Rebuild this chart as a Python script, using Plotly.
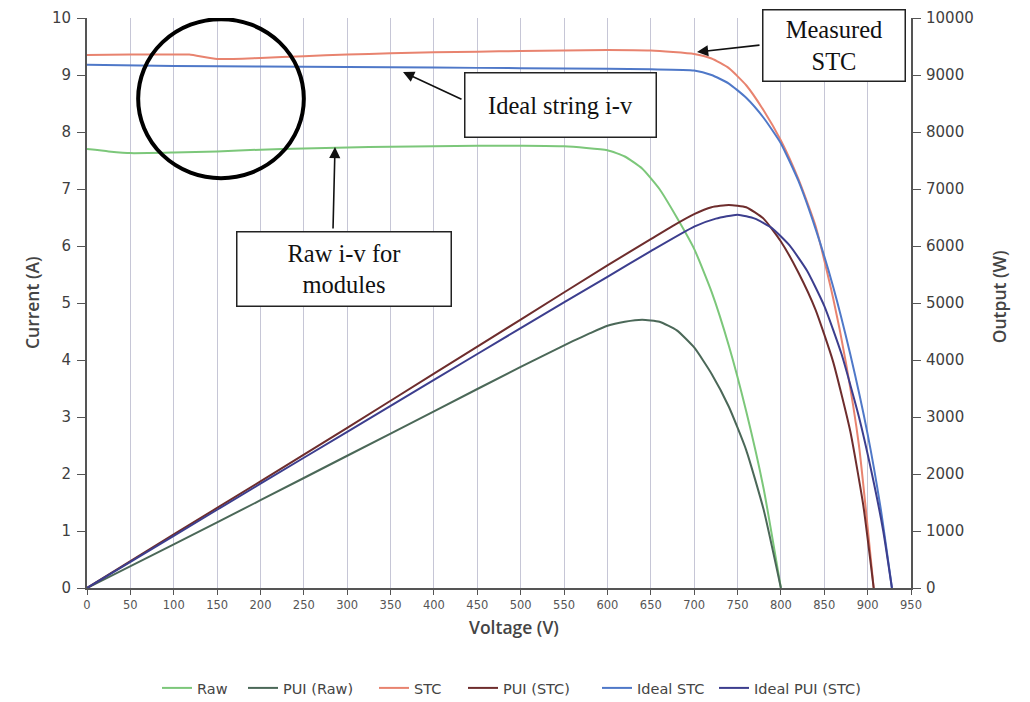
import plotly.graph_objects as go

# ---------------- data ----------------
raw_v = [0, 25, 50, 100, 150, 200, 250, 300, 350, 400, 450, 500, 550, 600, 620, 640, 660, 680, 700, 720, 740, 760, 780, 800]
raw_i = [7.70, 7.66, 7.63, 7.64, 7.66, 7.69, 7.71, 7.73, 7.74, 7.75, 7.76, 7.76, 7.75, 7.68, 7.57, 7.36, 7.00, 6.50, 5.95, 5.20, 4.25, 3.10, 1.75, 0.0]

pui_raw_v = [0, 100, 200, 300, 400, 500, 560, 580, 600, 620, 640, 660, 680, 700, 720, 740, 760, 780, 800]
pui_raw_p = [0, 765, 1540, 2320, 3100, 3880, 4330, 4470, 4600, 4670, 4705, 4670, 4520, 4220, 3760, 3180, 2420, 1380, 0]

stc_v = [0, 50, 100, 118, 150, 200, 250, 300, 350, 400, 450, 500, 550, 600, 650, 700, 720, 740, 760, 780, 800, 820, 840, 860, 875, 890, 907]
stc_i = [9.35, 9.36, 9.36, 9.36, 9.28, 9.30, 9.33, 9.36, 9.38, 9.40, 9.41, 9.42, 9.43, 9.44, 9.43, 9.37, 9.29, 9.12, 8.82, 8.38, 7.85, 7.18, 6.35, 5.10, 3.95, 2.50, 0.0]

pui_stc_v = [0, 100, 200, 300, 400, 500, 600, 650, 675, 700, 720, 740, 760, 780, 800, 820, 840, 860, 880, 895, 907]
pui_stc_p = [0, 940, 1870, 2810, 3760, 4710, 5660, 6120, 6350, 6560, 6680, 6720, 6680, 6480, 6080, 5540, 4880, 3980, 2750, 1450, 0]

ideal_v = [0, 100, 200, 300, 400, 500, 600, 650, 700, 720, 740, 760, 780, 800, 820, 840, 860, 880, 900, 915, 928]
ideal_i = [9.18, 9.16, 9.15, 9.14, 9.13, 9.12, 9.11, 9.10, 9.08, 9.00, 8.85, 8.60, 8.25, 7.80, 7.15, 6.30, 5.30, 4.10, 2.70, 1.40, 0.0]

ideal_pui_v = [0, 100, 200, 300, 400, 500, 600, 650, 700, 725, 750, 770, 790, 810, 830, 850, 870, 890, 905, 918, 928]
ideal_pui_p = [0, 915, 1830, 2740, 3650, 4560, 5460, 5910, 6340, 6480, 6550, 6480, 6310, 6010, 5570, 4950, 4100, 3000, 2000, 1000, 0]

x_ticks = list(range(0, 951, 50))
y_ticks = list(range(0, 11))
y2_ticks = list(range(0, 10001, 1000))

# ---------------- figure ----------------
fig = go.Figure()
LW = 2
SM = 0.5
series = [
    ("Raw", raw_v, raw_i, "y", "#7cc77a", "legend"),
    ("PUI (Raw)", pui_raw_v, pui_raw_p, "y2", "#4b6858", "legend2"),
    ("STC", stc_v, stc_i, "y", "#e8836f", "legend3"),
    ("PUI (STC)", pui_stc_v, pui_stc_p, "y2", "#6e2d2d", "legend4"),
    ("Ideal STC", ideal_v, ideal_i, "y", "#4f78c8", "legend5"),
    ("Ideal PUI (STC)", ideal_pui_v, ideal_pui_p, "y2", "#3c3e8e", "legend6"),
]
for name, xs, ys, ax, col, leg in series:
    fig.add_trace(go.Scatter(x=xs, y=ys, name=name, mode="lines", yaxis=ax, legend=leg,
                             line=dict(color=col, width=LW, shape="spline", smoothing=SM)))

AX = "#555555"
tickfont_y = dict(family="DejaVu Sans", size=15, color="#3f3f3f")
leg_font = dict(family="DejaVu Sans", size=14.5, color="#444444")
leg_starts = [162, 248, 379, 468, 602, 719]   # pixel x of each legend line start
legends = {}
for k, px in enumerate(leg_starts):
    key = "legend" if k == 0 else f"legend{k + 1}"
    legends[key] = dict(orientation="h", x=(px - 92) / 824, xanchor="left", y=-0.1754, yanchor="middle",
                        font=leg_font, itemwidth=30, bgcolor="rgba(0,0,0,0)", borderwidth=0)

fig.update_layout(
    width=1030, height=702,
    margin=dict(l=87, r=119, t=18, b=114, autoexpand=False),
    paper_bgcolor="white", plot_bgcolor="white",
    showlegend=True,
    xaxis=dict(range=[0, 950], tickvals=x_ticks, showgrid=True, gridcolor="#c6c6d6", gridwidth=1,
               showline=True, linecolor=AX, linewidth=2, ticks="outside", ticklen=5, tickcolor=AX,
               tickfont=dict(family="DejaVu Sans", size=11.5, color="#555555"), zeroline=False,
               fixedrange=True),
    yaxis=dict(range=[0, 10], tickvals=y_ticks, showgrid=False, zeroline=False,
               showline=True, linecolor=AX, linewidth=2, ticks="outside", ticklen=8, tickcolor=AX,
               tickfont=tickfont_y, ticklabelstandoff=3),
    yaxis2=dict(range=[0, 10000], tickvals=y2_ticks, tickformat="d", overlaying="y", side="right",
                showgrid=False, zeroline=False, showline=True, linecolor=AX, linewidth=2,
                ticks="outside", ticklen=8, tickcolor=AX, tickfont=tickfont_y, ticklabelstandoff=2),
    **legends,
)

# axis titles
title_font = dict(family="Open Sans", size=17.5, color="#444444", weight=600)
fig.add_annotation(text="Current (A)", xref="paper", yref="paper", x=-0.0837, y=0.5,
                   textangle=-90, showarrow=False, font=title_font)
fig.add_annotation(text="Output (W)", xref="paper", yref="paper", x=1.1238, y=0.51,
                   textangle=-90, showarrow=False, font=title_font)
fig.add_annotation(text="Voltage (V)", xref="paper", yref="paper", x=0.518, y=-0.093,
                   showarrow=False, font=title_font)

# circle highlight
fig.add_shape(type="circle", xref="x", yref="y", x0=59, x1=250, y0=7.19, y1=9.98,
              line=dict(color="black", width=4))

# callout boxes
serif = dict(family="Liberation Serif", size=24.5, color="#111111")
def box(text, cx, cy, w, h):
    fig.add_annotation(text=text, xref="paper", yref="paper",
                       x=(cx - 87) / 824, y=(588 - cy) / 570, xanchor="center", yanchor="middle",
                       width=w, height=h, showarrow=False, font=serif, align="center",
                       bordercolor="#222222", borderwidth=1.5, borderpad=0, bgcolor="white")

box("Measured<br>STC", 834, 45.5, 141, 70)
box("Ideal string i-v", 560.5, 105, 190, 63)
box("Raw i-v for<br>modules", 344, 269, 213, 73)

def arrow(tip_px, tail_px):
    tx, ty = tip_px
    fig.add_annotation(text="", xref="paper", yref="paper",
                       x=(tx - 87) / 824, y=(588 - ty) / 570,
                       ax=tail_px[0] - tx, ay=tail_px[1] - ty, showarrow=True,
                       arrowhead=2, arrowsize=1.4, arrowwidth=1.6, arrowcolor="#111111")

arrow((697, 52), (761, 45))
arrow((403, 72), (463, 100))
arrow((335, 147), (333, 230))

fig.write_html("out.html", config={"displayModeBar": False},
               post_script="document.body.style.margin='0';document.body.style.overflow='hidden';")
